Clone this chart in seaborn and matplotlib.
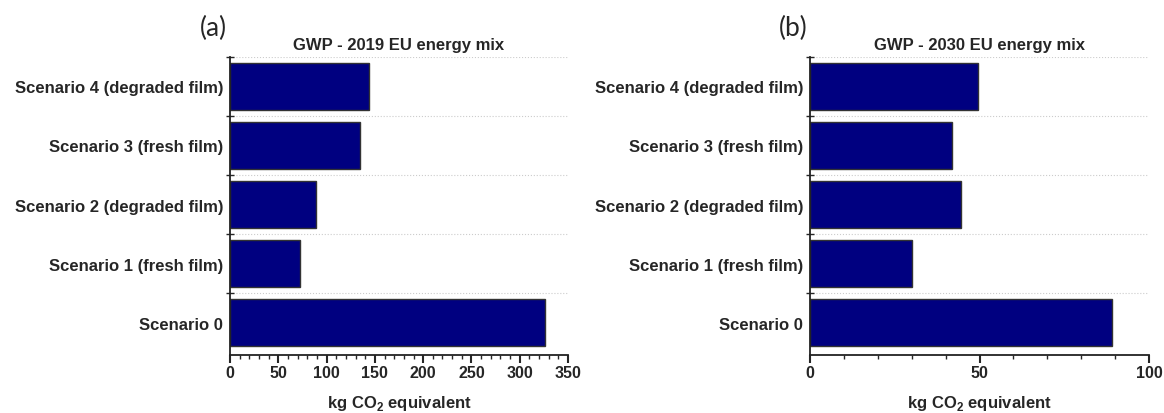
import pandas as pd
import matplotlib.pyplot as plt
import seaborn as sns
from matplotlib.ticker import MultipleLocator, FixedLocator

sns.set_style("white")
plt.rcParams['font.family'] = ['Liberation Sans', 'DejaVu Sans']
plt.rcParams['mathtext.fontset'] = 'custom'
plt.rcParams['mathtext.rm'] = 'Liberation Sans'
plt.rcParams['mathtext.bf'] = 'Liberation Sans:bold'

scenarios = ["Scenario 4 (degraded film)", "Scenario 3 (fresh film)",
             "Scenario 2 (degraded film)", "Scenario 1 (fresh film)", "Scenario 0"]
gwp_2019 = [144, 135, 89, 72, 326]
gwp_2030 = [49.5, 42, 44.5, 30, 89]

panels = [
    ("(a)", "GWP - 2019 EU energy mix", gwp_2019, 350, 50, 10),
    ("(b)", "GWP - 2030 EU energy mix", gwp_2030, 100, 50, 10),
]
positions = [[0.1976, 0.14, 0.2904, 0.72], [0.6959, 0.14, 0.2912, 0.72]]

fig = plt.figure(figsize=(11.64, 4.14), dpi=100)

for (tag, title, vals, xmax, major, minor), pos in zip(panels, positions):
    ax = fig.add_axes(pos)
    df = pd.DataFrame({"scenario": scenarios, "gwp": vals})
    sns.barplot(data=df, x="gwp", y="scenario", order=scenarios, orient="h",
                color="#000080", saturation=1, width=0.81,
                edgecolor="#333333", linewidth=1, ax=ax)
    ax.set_xlim(0, xmax)
    ax.set_ylim(4.55, -0.5)
    ax.xaxis.set_major_locator(MultipleLocator(major))
    ax.xaxis.set_minor_locator(MultipleLocator(minor))
    ax.yaxis.set_minor_locator(FixedLocator([-0.5, 0.5, 1.5, 2.5, 3.5]))
    ax.tick_params(axis="x", which="major", direction="out", length=6, width=1.5,
                   labelsize=11.5, pad=1.5, bottom=True)
    ax.tick_params(axis="x", which="minor", direction="out", length=3, width=1, bottom=True)
    ax.tick_params(axis="y", which="major", length=0, labelsize=12, pad=5)
    ax.tick_params(axis="y", which="minor", direction="inout", length=6, width=1, left=True)
    for lab in ax.get_xticklabels() + ax.get_yticklabels():
        lab.set_fontweight("bold")
    ax.grid(False)
    ax.grid(True, axis="y", which="minor", linestyle=":", color="#cccccc", linewidth=0.8)
    for s in ["top", "right"]:
        ax.spines[s].set_visible(False)
    for s in ["left", "bottom"]:
        ax.spines[s].set_color("#222222")
        ax.spines[s].set_linewidth(1.3)
    ax.set_ylabel("")
    ax.set_xlabel(r"kg CO$_{\mathbf{2}}$ equivalent", fontsize=12, fontweight="bold", labelpad=9)
    ax.set_title(title, fontsize=12, fontweight="bold", pad=6)
    ax.text(-0.05, 1.10, tag, transform=ax.transAxes, fontsize=19, ha="center", va="center",
            family=["Lato", "DejaVu Sans"])

fig.savefig("out.png", dpi=100)
